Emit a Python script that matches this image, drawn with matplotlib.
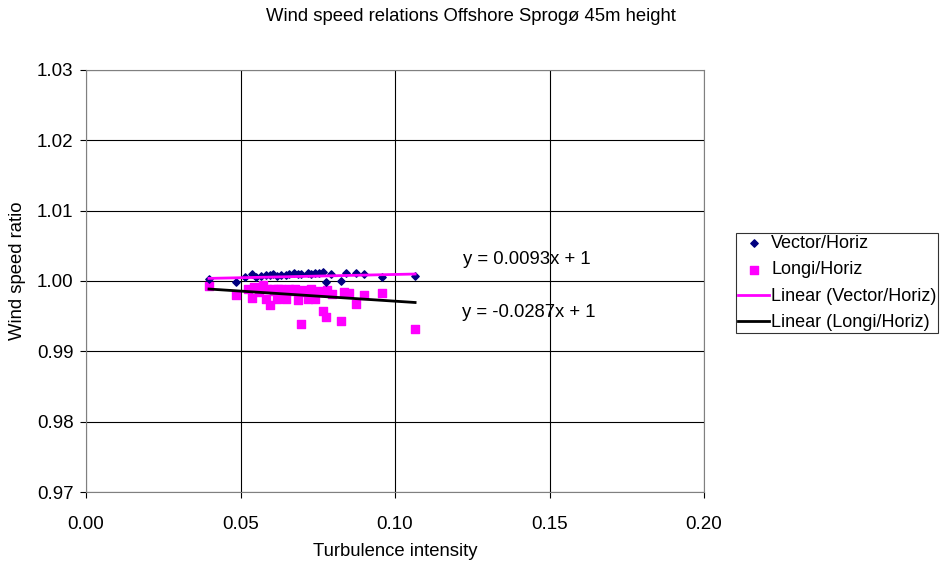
import numpy as np
import matplotlib
matplotlib.use("Agg")
import matplotlib.pyplot as plt

plt.rcParams['font.family'] = ['Liberation Sans', 'DejaVu Sans']

# Vector/Horiz
vec_x = [0.0398, 0.0484, 0.0513, 0.0538, 0.0551, 0.0567, 0.0581, 0.0594, 0.0604, 0.0617,
         0.0631, 0.0647, 0.0658, 0.0674, 0.0685, 0.0696, 0.0717, 0.0728, 0.0742, 0.0755,
         0.0766, 0.0776, 0.0793, 0.0825, 0.0841, 0.0873, 0.0900, 0.0957, 0.1065]
vec_y = [1.0003, 0.9999, 1.0005, 1.0010, 1.0006, 1.0007, 1.0009, 1.0009, 1.0010, 1.0007,
         1.0009, 1.0009, 1.0010, 1.0011, 1.0010, 1.0010, 1.0011, 1.0010, 1.0011, 1.0011,
         1.0013, 0.9999, 1.0010, 1.0000, 1.0011, 1.0012, 1.0010, 1.0006, 1.0007]

# Longi/Horiz
lon_x = [0.0398, 0.0484, 0.0523, 0.0538, 0.0545, 0.0560, 0.0574, 0.0581, 0.0585, 0.0594,
         0.0604, 0.0610, 0.0617, 0.0620, 0.0631, 0.0640, 0.0647, 0.0658, 0.0663, 0.0675,
         0.0685, 0.0690, 0.0696, 0.0707, 0.0717, 0.0728, 0.0735, 0.0742, 0.0750, 0.0762,
         0.0766, 0.0773, 0.0776, 0.0781, 0.0797, 0.0825, 0.0836, 0.0852, 0.0873, 0.0900,
         0.0957, 0.1065]
lon_y = [0.9993, 0.9980, 0.9989, 0.9976, 0.9992, 0.9985, 0.9994, 0.9975, 0.9988, 0.9966,
         0.9989, 0.9986, 0.9974, 0.9988, 0.9989, 0.9985, 0.9975, 0.9988, 0.9986, 0.9989,
         0.9973, 0.9985, 0.9939, 0.9987, 0.9975, 0.9988, 0.9984, 0.9975, 0.9986, 0.9985,
         0.9958, 0.9985, 0.9949, 0.9987, 0.9982, 0.9943, 0.9985, 0.9983, 0.9967, 0.9980,
         0.9983, 0.9932]

# trendline coefficients (as shown on chart)
vec_slope, vec_int = 0.0093, 1.0
lon_slope, lon_int = -0.0287, 1.0

fig = plt.figure(figsize=(9.44, 5.63), dpi=100)
ax = fig.add_axes([0.0911, 0.1261, 0.6547, 0.7496])

ax.scatter(vec_x, vec_y, marker='D', s=14, color='#000080', zorder=3, label='Vector/Horiz')
ax.scatter(lon_x, lon_y, marker='s', s=30, color='#FF00FF', zorder=2, label='Longi/Horiz')

xs = np.array([min(vec_x), max(vec_x)])
ax.plot(xs, vec_slope * xs + vec_int, color='#FF00FF', lw=2, zorder=4, label='Linear (Vector/Horiz)')
xs = np.array([min(lon_x), max(lon_x)])
ax.plot(xs, lon_slope * xs + lon_int, color='black', lw=2, zorder=4, label='Linear (Longi/Horiz)')

ax.set_xlim(0, 0.20)
ax.set_ylim(0.97, 1.03)
ax.set_xticks(np.arange(0, 0.201, 0.05))
ax.set_yticks(np.arange(0.97, 1.0301, 0.01))
ax.xaxis.set_major_formatter(matplotlib.ticker.FormatStrFormatter('%.2f'))
ax.yaxis.set_major_formatter(matplotlib.ticker.FormatStrFormatter('%.2f'))
ax.grid(True, color='black', lw=0.8)
ax.set_axisbelow(True)
ax.tick_params(direction='out', length=4, labelsize=13.5, pad=5)
ax.tick_params(axis='x', pad=13)
for s in ax.spines.values():
    s.set_color('#808080')

fig.text(395 / 944, 1 - 552 / 563, 'Turbulence intensity', ha='center', va='center', fontsize=13.3)
fig.text(18 / 944, 1 - 271 / 563, 'Wind speed ratio', ha='center', va='center', rotation=90, fontsize=13.3)
fig.text(0.499, 0.970, 'Wind speed relations Offshore Sprogø 45m height', ha='center', va='center', fontsize=13.3)

ax.text(0.1220, 1.0031, 'y = 0.0093x + 1', fontsize=13.3, va='center')
ax.text(0.1217, 0.99545, 'y = -0.0287x + 1', fontsize=13.3, va='center')

leg = fig.legend(loc='lower left', bbox_to_anchor=(0.7797, 0.4085), fontsize=13,
                 frameon=True, fancybox=False, edgecolor='black', handlelength=1.75,
                 handletextpad=0.1, borderpad=0.1, labelspacing=0.52, borderaxespad=0)
leg.get_frame().set_linewidth(0.8)

fig.savefig('out.png', dpi=100)
